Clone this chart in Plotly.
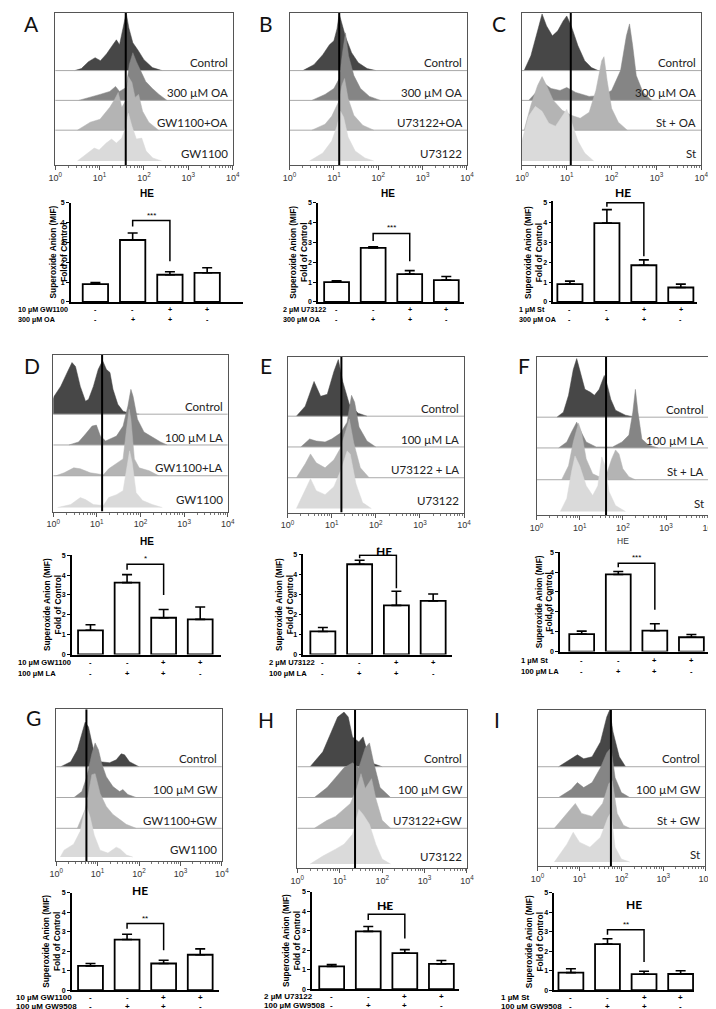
import plotly.graph_objects as go

W, H = 716, 1009
ARIAL = "Liberation Sans, Arial, sans-serif"
CAL = "Lato, Carlito, Calibri, sans-serif"

# ================= flow-cytometry overlays =================
# points: (log10 HE intensity, height above the histogram baseline, px)
A_CONTROL = [(0.44,0),(0.59,2),(0.75,9),(0.90,13),(1.02,10),(1.16,17),(1.30,26),(1.38,31),(1.45,26),(1.54,46),(1.60,58),(1.66,43),(1.75,28),(1.86,21),(2.00,11),(2.19,3),(2.41,0)]
A_OA = [(0.53,0),(0.79,3),(1.01,6),(1.23,9),(1.36,14),(1.45,9),(1.60,13),(1.67,36),(1.75,48),(1.83,39),(1.93,29),(2.04,19),(2.19,12),(2.34,6),(2.52,0)]
A_GWOA = [(0.50,0),(0.79,8),(1.01,11),(1.23,23),(1.34,31),(1.42,38),(1.50,23),(1.58,29),(1.65,54),(1.73,48),(1.80,33),(1.88,36),(1.97,19),(2.11,8),(2.33,0)]
A_GW = [(0.50,0),(0.75,8),(0.88,13),(0.99,11),(1.15,18),(1.27,22),(1.38,18),(1.50,23),(1.58,33),(1.65,48),(1.73,35),(1.83,22),(1.95,23),(2.05,10),(2.20,3),(2.40,0)]

B_CONTROL = [(0.30,0),(0.55,6),(0.75,16),(0.90,26),(1.00,30),(1.07,42),(1.12,57),(1.18,48),(1.27,33),(1.40,18),(1.55,8),(1.75,2),(1.95,0)]
B_OA = [(0.50,0),(0.80,6),(1.00,12),(1.12,22),(1.20,50),(1.26,68),(1.33,45),(1.45,25),(1.60,12),(1.80,4),(2.05,0)]
B_UOA = [(0.50,0),(0.80,6),(0.95,14),(1.10,28),(1.18,45),(1.24,52),(1.32,32),(1.45,15),(1.65,5),(1.90,0)]
B_U = [(0.45,0),(0.75,8),(0.95,20),(1.07,35),(1.15,50),(1.22,44),(1.32,24),(1.48,10),(1.70,3),(1.90,0)]

C_CONTROL = [(0.05,0),(0.20,15),(0.35,40),(0.45,57),(0.55,45),(0.68,35),(0.80,40),(0.92,50),(1.00,55),(1.10,45),(1.25,25),(1.40,10),(1.55,3),(1.70,0)]
C_OA = [(0.15,0),(0.35,10),(0.50,17),(0.65,12),(0.85,10),(1.00,13),(1.20,8),(1.50,4),(1.80,5),(2.00,10),(2.20,30),(2.33,65),(2.40,77),(2.47,55),(2.55,25),(2.70,8),(2.90,0)]
C_STOA = [(0.05,0),(0.20,25),(0.35,45),(0.45,54),(0.55,45),(0.70,30),(0.90,20),(1.10,15),(1.30,12),(1.50,18),(1.65,40),(1.78,70),(1.83,74),(1.90,50),(2.00,22),(2.15,8),(2.35,0)]
C_ST = [(0.00,0),(0.00,20),(0.15,45),(0.30,55),(0.45,50),(0.60,38),(0.75,35),(0.90,45),(1.00,52),(1.10,40),(1.25,20),(1.40,8),(1.60,0)]

D_CONTROL = [(0.00,0),(0.00,15),(0.02,18),(0.17,28),(0.32,42),(0.43,52),(0.51,48),(0.62,28),(0.74,13),(0.81,15),(0.92,28),(1.03,45),(1.13,54),(1.22,45),(1.30,42),(1.37,25),(1.48,10),(1.60,3),(1.75,1),(1.97,0)]
D_LA = [(0.36,0),(0.58,3),(0.74,11),(0.89,19),(0.99,20),(1.08,9),(1.20,4),(1.30,6),(1.45,9),(1.60,19),(1.71,39),(1.78,56),(1.83,49),(1.93,26),(2.08,13),(2.27,8),(2.46,3),(2.61,0)]
D_GWLA = [(0.06,0),(0.25,3),(0.47,8),(0.62,7),(0.85,3),(1.15,1),(1.27,7),(1.45,12),(1.60,17),(1.68,47),(1.74,67),(1.78,57),(1.86,17),(1.97,8),(2.20,5),(2.42,0)]
D_GW = [(0.10,0),(0.40,3),(0.62,10),(0.74,8),(0.92,3),(1.15,2),(1.27,10),(1.45,13),(1.60,17),(1.70,45),(1.75,57),(1.81,45),(1.90,15),(2.05,7),(2.27,3),(2.50,0)]

E_CONTROL = [(0.20,0),(0.40,10),(0.60,35),(0.75,20),(0.90,22),(1.05,45),(1.15,57),(1.25,35),(1.40,12),(1.60,3),(1.80,0)]
E_LA = [(0.30,0),(0.50,8),(0.65,6),(0.85,5),(1.00,8),(1.20,14),(1.35,25),(1.45,52),(1.52,45),(1.62,20),(1.80,6),(2.00,0)]
E_ULA = [(0.20,0),(0.40,14),(0.52,24),(0.65,15),(0.85,10),(1.05,18),(1.20,30),(1.33,50),(1.40,59),(1.50,35),(1.65,10),(1.85,0)]
E_U = [(0.20,0),(0.40,18),(0.52,30),(0.65,18),(0.85,14),(1.05,22),(1.22,40),(1.35,58),(1.42,55),(1.55,25),(1.70,6),(1.90,0)]

F_CONTROL = [(0.47,0),(0.62,5),(0.74,22),(0.85,48),(0.93,59),(1.00,48),(1.12,28),(1.25,25),(1.34,22),(1.45,28),(1.57,42),(1.64,32),(1.72,18),(1.83,7),(2.06,2),(2.29,0)]
F_LA = [(0.51,0),(0.70,6),(0.81,16),(0.93,26),(1.00,19),(1.15,6),(1.38,1),(1.76,1),(1.98,6),(2.14,13),(2.23,36),(2.29,59),(2.35,36),(2.44,9),(2.59,3),(2.82,0)]
F_STLA = [(0.58,0),(0.74,14),(0.85,38),(0.97,57),(1.04,48),(1.15,21),(1.30,6),(1.45,3),(1.64,8),(1.74,21),(1.83,30),(1.91,26),(2.00,11),(2.14,3),(2.29,0)]
F_ST = [(0.55,0),(0.70,13),(0.81,40),(0.89,56),(1.00,46),(1.15,26),(1.30,16),(1.42,26),(1.51,55),(1.59,46),(1.68,20),(1.83,6),(2.06,0)]

G_CONTROL = [(0.11,0),(0.35,5),(0.51,17),(0.62,33),(0.70,45),(0.78,40),(0.90,17),(1.06,5),(1.29,4),(1.45,7),(1.57,13),(1.65,12),(1.77,5),(2.00,0)]
G_GW = [(0.43,0),(0.62,6),(0.74,21),(0.86,44),(0.94,55),(1.02,48),(1.10,34),(1.21,21),(1.37,11),(1.53,6),(1.61,8),(1.73,3),(1.93,0)]
G_GWGW = [(0.51,0),(0.70,19),(0.78,35),(0.86,54),(0.94,55),(1.06,35),(1.21,22),(1.37,14),(1.53,9),(1.69,4),(1.93,0)]
G_GW1100 = [(0.10,0),(0.19,7),(0.42,13),(0.58,26),(0.68,45),(0.74,50),(0.82,40),(0.92,22),(1.06,7),(1.25,4),(1.45,10),(1.55,8),(1.70,2),(1.85,0)]

H_CONTROL = [(0.30,0),(0.60,15),(0.80,35),(0.95,50),(1.10,55),(1.20,50),(1.30,30),(1.45,25),(1.55,30),(1.65,15),(1.80,3),(2.00,0)]
H_GW = [(0.40,0),(0.70,10),(0.90,20),(1.10,30),(1.30,35),(1.45,30),(1.60,50),(1.70,55),(1.80,35),(1.95,10),(2.20,0)]
H_UGW = [(0.40,0),(0.70,8),(0.90,12),(1.10,20),(1.25,25),(1.40,40),(1.50,55),(1.60,40),(1.75,50),(1.85,30),(2.00,8),(2.20,0)]
H_U = [(0.30,0),(0.60,8),(0.90,15),(1.10,20),(1.30,30),(1.45,55),(1.55,50),(1.70,40),(1.85,20),(2.00,5),(2.20,0)]

I_CONTROL = [(0.50,0),(0.80,8),(0.95,12),(1.10,8),(1.30,10),(1.50,25),(1.65,50),(1.72,57),(1.80,35),(1.95,10),(2.10,0)]
I_GW = [(0.50,0),(0.80,8),(0.95,15),(1.10,10),(1.30,15),(1.50,30),(1.65,45),(1.75,50),(1.85,20),(2.00,5),(2.20,0)]
I_STGW = [(0.40,0),(0.70,15),(0.90,25),(1.05,15),(1.30,12),(1.55,25),(1.70,45),(1.78,48),(1.90,15),(2.05,3),(2.20,0)]
I_ST = [(0.40,0),(0.70,18),(0.85,30),(1.00,20),(1.25,15),(1.50,25),(1.68,45),(1.75,50),(1.85,15),(2.00,3),(2.20,0)]

# gate line (log10 HE) per panel
GATE = {"A": 1.59, "B": 1.12, "C": 1.09, "D": 1.12, "E": 1.22, "F": 1.61, "G": 0.73, "H": 1.36, "I": 1.75}

A_LABELS = ["Control", "300 µM OA", "GW1100+OA", "GW1100"]
B_LABELS = ["Control", "300 µM OA", "U73122+OA", "U73122"]
C_LABELS = ["Control", "300 µM OA", "St + OA", "St"]
D_LABELS = ["Control", "100 µM LA", "GW1100+LA", "GW1100"]
E_LABELS = ["Control", "100 µM LA", "U73122 + LA", "U73122"]
F_LABELS = ["Control", "100 µM LA", "St + LA", "St"]
G_LABELS = ["Control", "100 µM GW", "GW1100+GW", "GW1100"]
H_LABELS = ["Control", "100 µM GW", "U73122+GW", "U73122"]
I_LABELS = ["Control", "100 µM GW", "St + GW", "St"]

HIST_TICKS = [1, 10, 100, 1000, 10000]
HIST_TICKTEXT = ["10<sup>0</sup>", "10<sup>1</sup>", "10<sup>2</sup>", "10<sup>3</sup>", "10<sup>4</sup>"]

# ================= bar charts: superoxide anion, fold of control =================
A_MEAN = [0.90, 3.12, 1.37, 1.47]; A_SEM = [0.08, 0.35, 0.15, 0.25]
B_MEAN = [1.00, 2.72, 1.40, 1.10]; B_SEM = [0.06, 0.06, 0.18, 0.18]
C_MEAN = [0.90, 3.97, 1.85, 0.73]; C_SEM = [0.15, 0.68, 0.27, 0.17]
D_MEAN = [1.22, 3.62, 1.85, 1.77]; D_SEM = [0.28, 0.40, 0.42, 0.62]
E_MEAN = [1.15, 4.50, 2.45, 2.67]; E_SEM = [0.20, 0.20, 0.70, 0.35]
F_MEAN = [0.88, 3.88, 1.05, 0.72]; F_SEM = [0.15, 0.15, 0.35, 0.14]
G_MEAN = [1.25, 2.60, 1.37, 1.82]; G_SEM = [0.12, 0.27, 0.17, 0.30]
H_MEAN = [1.17, 2.97, 1.85, 1.30]; H_SEM = [0.10, 0.25, 0.18, 0.17]
I_MEAN = [0.90, 2.37, 0.82, 0.83]; I_SEM = [0.20, 0.27, 0.15, 0.17]

# significance bracket: (left leg bottom, top, right leg bottom), label
A_SIG = ((3.80, 4.10, 2.05), "***")
B_SIG = ((3.07, 3.45, 2.05), "***")
C_SIG = ((4.80, 5.00, 2.30), "*")
D_SIG = ((4.27, 4.55, 3.00), "*")
E_SIG = ((4.80, 4.95, 3.30), "*")
F_SIG = ((4.25, 4.45, 2.10), "***")
G_SIG = ((3.15, 3.42, 2.05), "**")
H_SIG = ((3.55, 3.85, 2.60), "**")
I_SIG = ((2.85, 3.10, 1.45), "**")

A_TREAT = ["10 µM GW1100", "300 µM OA"]
B_TREAT = ["2 µM U73122", "300 µM OA"]
C_TREAT = ["1 µM St", "300 µM OA"]
D_TREAT = ["10 µM GW1100", "100 µM LA"]
E_TREAT = ["2 µM U73122", "100 µM LA"]
F_TREAT = ["1 µM St", "100 µM LA"]
G_TREAT = ["10 µM GW1100", "100 µM GW9508"]
H_TREAT = ["2 µM U73122", "100 µM GW9508"]
I_TREAT = ["1 µM St", "100 µM GW9508"]
TREAT_SIGNS = [["-", "-", "+", "+"], ["-", "+", "+", "-"]]

DATA = {
    "A": dict(curves=[A_CONTROL, A_OA, A_GWOA, A_GW], labels=A_LABELS, mean=A_MEAN, sem=A_SEM, sig=A_SIG, treat=A_TREAT),
    "B": dict(curves=[B_CONTROL, B_OA, B_UOA, B_U], labels=B_LABELS, mean=B_MEAN, sem=B_SEM, sig=B_SIG, treat=B_TREAT),
    "C": dict(curves=[C_CONTROL, C_OA, C_STOA, C_ST], labels=C_LABELS, mean=C_MEAN, sem=C_SEM, sig=C_SIG, treat=C_TREAT),
    "D": dict(curves=[D_CONTROL, D_LA, D_GWLA, D_GW], labels=D_LABELS, mean=D_MEAN, sem=D_SEM, sig=D_SIG, treat=D_TREAT),
    "E": dict(curves=[E_CONTROL, E_LA, E_ULA, E_U], labels=E_LABELS, mean=E_MEAN, sem=E_SEM, sig=E_SIG, treat=E_TREAT),
    "F": dict(curves=[F_CONTROL, F_LA, F_STLA, F_ST], labels=F_LABELS, mean=F_MEAN, sem=F_SEM, sig=F_SIG, treat=F_TREAT),
    "G": dict(curves=[G_CONTROL, G_GW, G_GWGW, G_GW1100], labels=G_LABELS, mean=G_MEAN, sem=G_SEM, sig=G_SIG, treat=G_TREAT),
    "H": dict(curves=[H_CONTROL, H_GW, H_UGW, H_U], labels=H_LABELS, mean=H_MEAN, sem=H_SEM, sig=H_SIG, treat=H_TREAT),
    "I": dict(curves=[I_CONTROL, I_GW, I_STGW, I_ST], labels=I_LABELS, mean=I_MEAN, sem=I_SEM, sig=I_SIG, treat=I_TREAT),
}

# ================= layout geometry (pixels) =================
GEOM = {
    "A": dict(hist=(41, 222, 1, 154), bases=(59, 89, 119, 150), letter=(17, 12),
              bar=(57, 233, 82, 38.0, 292, 192), ytop=5.0, ytx=44, he=(135, 183, "arial"), tx=2, tfs=7.2, trow=(8, 18)),
    "B": dict(hist=(280, 461, 1, 154), bases=(59, 89, 119, 150), letter=(256, 12),
              bar=(309, 458, 328, 37.3, 292, 192), ytop=5.0, ytx=289, he=(380, 183, "arial"), tx=272, tfs=7.2, trow=(8, 18)),
    "C": dict(hist=(517, 700, 1, 154), bases=(59, 89, 119, 150), letter=(494, 12),
              bar=(549, 696, 566, 37.7, 292, 192), ytop=5.06, ytx=529, he=(620, 182, "cal"), tx=513, tfs=7.2, trow=(8, 18)),
    "D": dict(hist=(39, 217, 345, 503), bases=(405, 436, 467, 499), letter=(17, 356),
              bar=(58, 210, 77, 37.3, 647, 547), ytop=5.0, ytx=39, he=(135, 533, "arial"), tx=2, tfs=7.6, trow=(8, 19)),
    "E": dict(hist=(278, 458, 347, 504), bases=(407, 438, 469, 500), letter=(256, 356),
              bar=(294, 446, 314, 37.5, 647, 546), ytop=5.0, ytx=275, he=(376, 543, "cal"), tx=258, tfs=7.6, trow=(8, 19)),
    "F": dict(hist=(532, 708, 347, 507), bases=(408, 439, 471, 503), letter=(519, 356),
              bar=(556, 708, 578, 37.3, 644, 544), ytop=5.0, ytx=540, he=None, tx=515, tfs=7.6, trow=(9, 20)),
    "G": dict(hist=(42, 211, 702, 855), bases=(760, 791, 822, 851), letter=(19, 710),
              bar=(58, 208, 77, 37.3, 985, 887), ytop=5.0, ytx=37, he=(128, 885, "cal"), tx=0, tfs=8.0, trow=(7, 16)),
    "H": dict(hist=(288, 461, 703, 862), bases=(760, 791, 822, 858), letter=(256, 712),
              bar=(303, 453, 323, 37.3, 984, 886), ytop=5.0, ytx=282, he=(377, 900, "cal"), tx=253, tfs=8.0, trow=(7, 16)),
    "I": dict(hist=(533, 704, 703, 860), bases=(760, 791, 822, 856), letter=(492, 712),
              bar=(550, 693, 567, 37.3, 985, 887), ytop=5.0, ytx=530, he=(631, 899, "cal"), tx=495, tfs=8.0, trow=(7, 16)),
}

FILLS = ["#474747", "#858585", "#b4b4b4", "#dadada"]
MINOR = [m * 10 ** d for d in range(4) for m in range(2, 10)]

fig = go.Figure()
layout = dict(width=W, height=H, margin=dict(l=0, r=0, t=0, b=0),
              paper_bgcolor="white", plot_bgcolor="rgba(0,0,0,0)", showlegend=False)
ann = []


def aname(c, n):
    return f"{c}axis" if n == 1 else f"{c}axis{n}"


def aref(c, n):
    return c if n == 1 else f"{c}{n}"


def px(x):
    return x / W


def py(y):
    return 1 - y / H


for i, key in enumerate("ABCDEFGHI"):
    g = GEOM[key]
    d = DATA[key]
    hn, bn = 2 * i + 1, 2 * i + 2
    hx0, hx1, hy0, hy1 = g["hist"]
    hh = hy1 - hy0
    layout[aname("x", hn)] = dict(
        type="log", range=[0, 4], domain=[px(hx0), px(hx1)], anchor=aref("y", hn),
        showline=True, mirror=True, linecolor="#555", linewidth=1,
        ticks="outside", ticklen=4, tickcolor="#555", tickwidth=1,
        tickvals=HIST_TICKS, ticktext=HIST_TICKTEXT,
        tickfont=dict(size=9, color="#333", family=ARIAL),
        minor=dict(tickvals=MINOR, ticks="outside", ticklen=2, tickcolor="#777", showgrid=False),
        showgrid=False, zeroline=False, fixedrange=True)
    layout[aname("y", hn)] = dict(
        range=[0, hh], domain=[py(hy1), py(hy0)], anchor=aref("x", hn),
        showline=True, mirror=True, linecolor="#555", linewidth=1,
        showticklabels=False, ticks="", showgrid=False, zeroline=False, fixedrange=True)

    for k, pts in enumerate(d["curves"]):
        base = hy1 - g["bases"][k]
        fig.add_trace(go.Scatter(
            x=[10 ** p[0] for p in pts], y=[base + p[1] for p in pts],
            mode="lines", fill="toself", fillcolor=FILLS[k],
            line=dict(color=FILLS[k], width=0.5),
            xaxis=aref("x", hn), yaxis=aref("y", hn), hoverinfo="skip"))
        if k < 3:
            fig.add_trace(go.Scatter(
                x=[1, 10000], y=[base, base], mode="lines",
                line=dict(color="#a9a9a9", width=1),
                xaxis=aref("x", hn), yaxis=aref("y", hn), hoverinfo="skip"))
        ann.append(dict(text=d["labels"][k], x=px(hx1 - 3), y=py(g["bases"][k] - 8),
                        xref="paper", yref="paper", xanchor="right", yanchor="middle",
                        showarrow=False, font=dict(family=CAL, size=11.5, color="#222")))
    fig.add_trace(go.Scatter(
        x=[10 ** GATE[key]] * 2, y=[0, hh], mode="lines",
        line=dict(color="black", width=2),
        xaxis=aref("x", hn), yaxis=aref("y", hn), hoverinfo="skip"))

    lx, ly = g["letter"]
    ann.append(dict(text=key, x=px(lx), y=py(ly), xref="paper", yref="paper",
                    xanchor="center", yanchor="middle", showarrow=False,
                    font=dict(family=CAL, size=21, color="#111")))

    # ---------- bar chart ----------
    bx0, bx1, c0, step, y0, y5 = g["bar"]
    ppu = (y0 - y5) / 5.0
    top_px = y0 - ppu * g["ytop"]
    layout[aname("x", bn)] = dict(
        range=[(bx0 - c0) / step, (bx1 - c0) / step], domain=[px(bx0), px(bx1)],
        anchor=aref("y", bn), showline=True, linecolor="black", linewidth=1.5,
        ticks="", showticklabels=False, showgrid=False, zeroline=False, fixedrange=True)
    layout[aname("y", bn)] = dict(
        range=[0, g["ytop"]], domain=[py(y0), py(top_px)], anchor=aref("x", bn),
        showline=True, linecolor="black", linewidth=1.5,
        ticks="outside", ticklen=3, tickwidth=1.2, tickcolor="black",
        tickvals=[0, 1, 2, 3, 4, 5], ticktext=["0", "1", "2", "3", "4", "5"],
        tickfont=dict(family=ARIAL, size=7, color="black", weight="bold"),
        showgrid=False, zeroline=False, fixedrange=True)
    fig.add_trace(go.Bar(
        x=[0, 1, 2, 3], y=d["mean"], width=0.68,
        marker=dict(color="white", line=dict(color="black", width=1.8)),
        error_y=dict(type="data", array=d["sem"], arrayminus=[0, 0, 0, 0], symmetric=False,
                     color="black", thickness=1.6, width=5),
        xaxis=aref("x", bn), yaxis=aref("y", bn), hoverinfo="skip"))
    (yl, yt, yr), stars = d["sig"]
    fig.add_trace(go.Scatter(
        x=[1, 1, 2, 2], y=[yl, yt, yt, yr], mode="lines",
        line=dict(color="black", width=1.5),
        xaxis=aref("x", bn), yaxis=aref("y", bn), hoverinfo="skip"))
    ann.append(dict(text=stars, x=1.5, y=yt, xref=aref("x", bn), yref=aref("y", bn),
                    xanchor="center", yanchor="bottom", yshift=-1, showarrow=False,
                    font=dict(family=ARIAL, size=8, color="black")))

    ann.append(dict(text="Superoxide Anion (MIF)<br>Fold of Control",
                    x=px(g["ytx"]), y=py((y0 + y5) / 2), xref="paper", yref="paper",
                    xanchor="center", yanchor="middle", textangle=-90, showarrow=False,
                    font=dict(family=ARIAL, size=8.3, color="black", weight="bold")))
    if g["he"] is not None:
        hx, hyy, style = g["he"]
        if style == "arial":
            f = dict(family=ARIAL, size=10, color="black", weight="bold")
        else:
            f = dict(family=CAL, size=12, color="black", weight="bold")
        ann.append(dict(text="HE", x=px(hx), y=py(hyy), xref="paper", yref="paper",
                        xanchor="center", yanchor="middle", showarrow=False, font=f))
    else:
        ann.append(dict(text="HE", x=px(620), y=py(533), xref="paper", yref="paper",
                        xanchor="center", yanchor="middle", showarrow=False,
                        font=dict(family=ARIAL, size=8.5, color="#333")))

    for r, name in enumerate(d["treat"]):
        yy = py(y0 + g["trow"][r])
        f = dict(family=ARIAL, size=g["tfs"], color="black", weight="bold")
        ann.append(dict(text=name, x=px(g["tx"]), y=yy, xref="paper", yref="paper",
                        xanchor="left", yanchor="middle", showarrow=False, borderpad=0, font=f))
        for j, s in enumerate(TREAT_SIGNS[r]):
            ann.append(dict(text=s, x=j, y=yy, xref=aref("x", bn), yref="paper",
                            xanchor="center", yanchor="middle", showarrow=False, borderpad=0, font=f))

layout["annotations"] = ann
fig.update_layout(**layout)
fig.write_html("out.html")
